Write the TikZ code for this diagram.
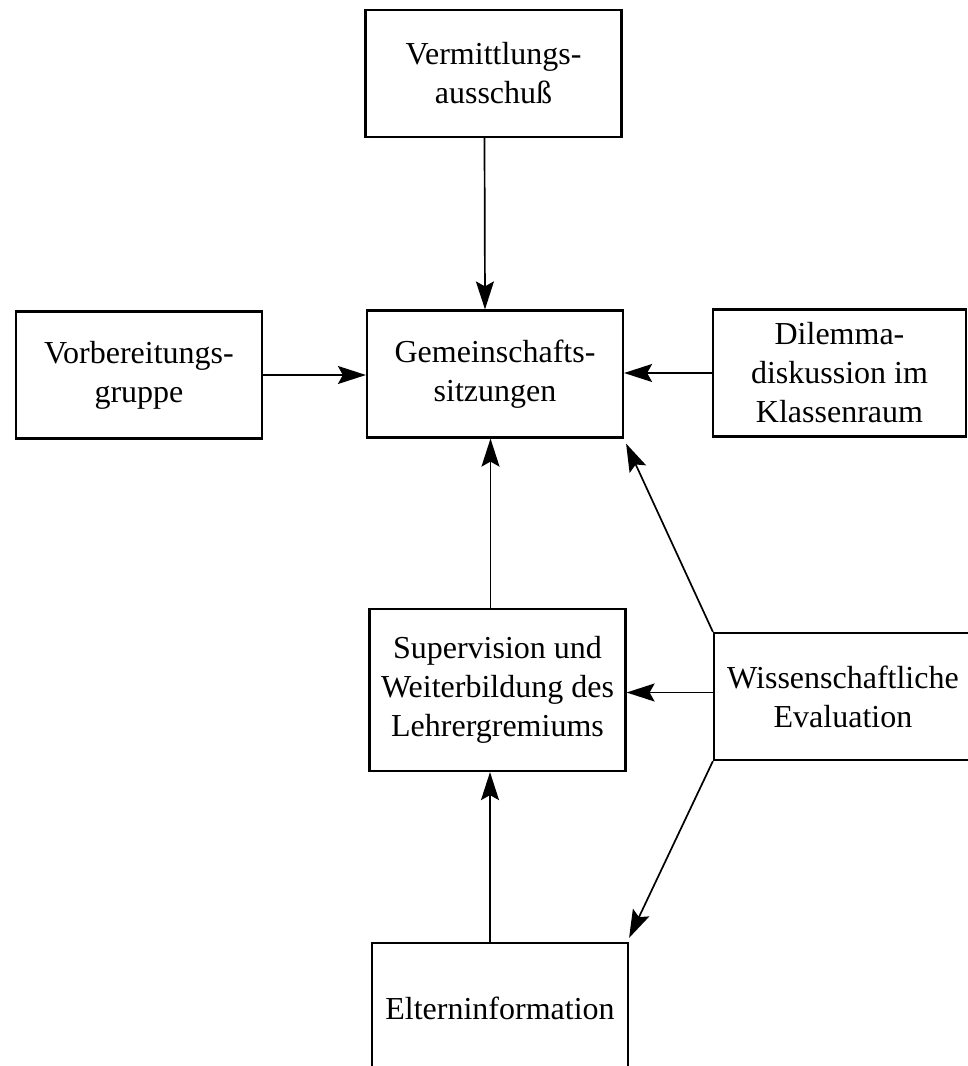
\documentclass[tikz,border=0pt]{standalone}
\usepackage{fontspec}
\setmainfont{Liberation Serif}
\usetikzlibrary{arrows.meta}

\begin{document}
\begin{tikzpicture}[
		x=0.5pt, y=-0.5pt,
		box/.style={draw, line width=1.1pt, minimum width=128pt, minimum height=63.5pt, align=center, inner sep=0pt},
		pfeil/.style={draw, line width=0.85pt, -{Stealth[length=14pt, width=9pt, inset=2.5pt]}},
		every node/.style={font=\fontsize{16}{19.5}\selectfont}
	]

	\useasboundingbox (0,0) rectangle (968,1066);

	\node[box] (verm) at (493.5,73.5) {Vermittlungs-\\ausschuß};
	\node[box, minimum width=123pt] (vorb) at (139,375) {Vorbereitungs-\\gruppe};
	\node[box] (gem) at (495,374) {Gemeinschafts-\\sitzungen};
	\node[box, minimum width=126.5pt] (dil) at (839.5,373) {Dilemma-\\diskussion im\\Klassenraum};
	\node[box, minimum height=81pt] (sup) at (497.5,690) {Supervision und\\Weiterbildung des\\Lehrergremiums};
	\node[box, minimum width=129pt] (wiss) at (843,696.5) {Wissenschaftliche\\Evaluation};
	\node[box, minimum height=65pt] (elt) at (500,1008) {Elterninformation};

	\draw[pfeil] ([xshift=-4.5pt]verm.south) -- ([xshift=-5pt]gem.north);
	\draw[pfeil] (vorb.east) -- (vorb.east -| gem.west);
	\draw[pfeil] (dil.west) -- (dil.west -| gem.east);
	\draw[pfeil] ([xshift=-3.5pt]sup.north) -- ([xshift=-3.5pt]sup.north |- gem.south);
	\draw[pfeil] ([yshift=2pt]wiss.west) -- ([yshift=2pt]wiss.west -| sup.east);
	\draw[pfeil] (wiss.north west) -- ([shift={(1pt,-2.5pt)}]gem.south east);
	\draw[pfeil] (wiss.south west) -- ([yshift=2pt]elt.north east);
	\draw[pfeil] ([xshift=-5pt]elt.north) -- ([xshift=-5pt]elt.north |- sup.south);

\end{tikzpicture}
\end{document}
